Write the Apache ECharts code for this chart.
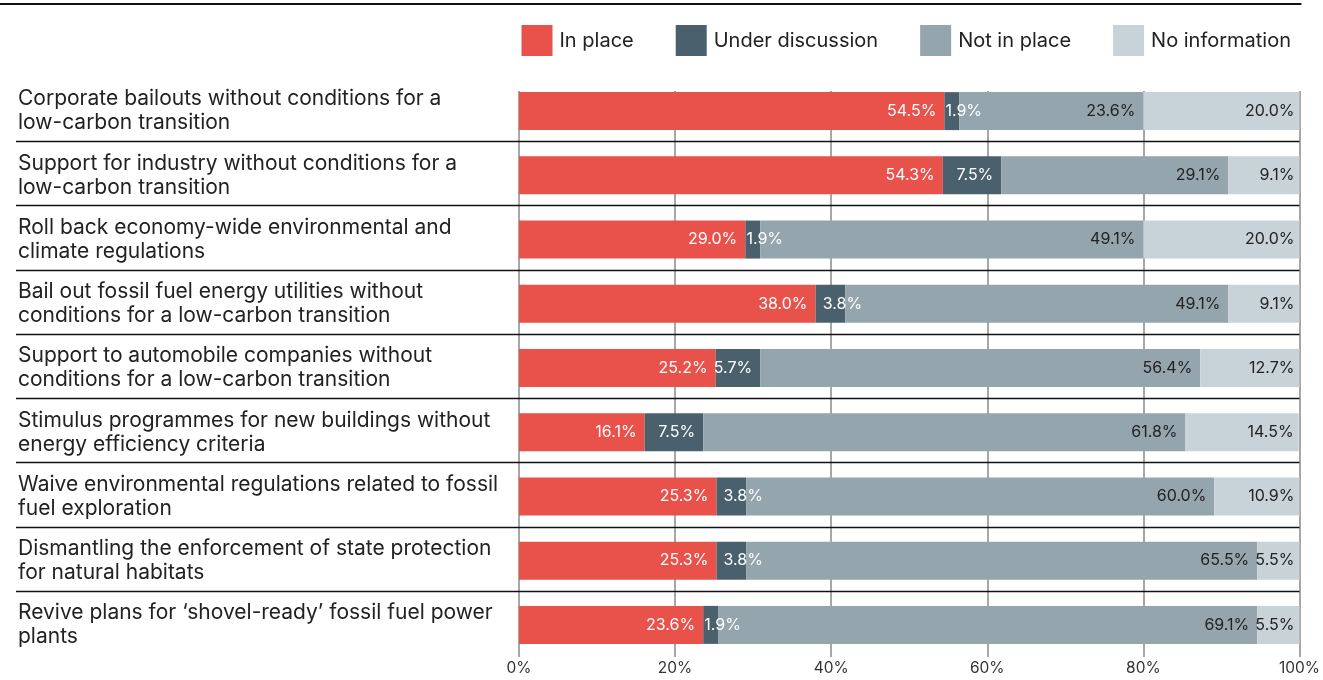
<!DOCTYPE html>
<html>
<head>
<meta charset="utf-8">
<script src="https://cdn.jsdelivr.net/npm/echarts@6/dist/echarts.min.js"></script>
<style>
html,body{margin:0;padding:0;background:#fff;}
#chart{width:1323px;height:680px;}
</style>
</head>
<body>
<div id="chart"></div>
<script>
const categories = [
  'Corporate bailouts without conditions for a\nlow-carbon transition',
  'Support for industry without conditions for a\nlow-carbon transition',
  'Roll back economy-wide environmental and\nclimate regulations',
  'Bail out fossil fuel energy utilities without\nconditions for a low-carbon transition',
  'Support to automobile companies without\nconditions for a low-carbon transition',
  'Stimulus programmes for new buildings without\nenergy efficiency criteria',
  'Waive environmental regulations related to fossil\nfuel exploration',
  'Dismantling the enforcement of state protection\nfor natural habitats',
  'Revive plans for \u2018shovel-ready\u2019 fossil fuel power\nplants'
];
const seriesNames = ['In place', 'Under discussion', 'Not in place', 'No information'];
const inPlace          = [54.5, 54.3, 29.0, 38.0, 25.2, 16.1, 25.3, 25.3, 23.6];
const underDiscussion  = [1.9, 7.5, 1.9, 3.8, 5.7, 7.5, 3.8, 3.8, 1.9];
const notInPlace       = [23.6, 29.1, 49.1, 49.1, 56.4, 61.8, 60.0, 65.5, 69.1];
const noInformation    = [20.0, 9.1, 20.0, 9.1, 12.7, 14.5, 10.9, 5.5, 5.5];
const xTicks = [0, 20, 40, 60, 80, 100];

const colors = ['#E8524A', '#4A616D', '#94A5AE', '#C8D3D9'];
const labelColors = ['#ffffff', '#ffffff', '#222222', '#222222'];
const FONT = 'Inter';

const chart = echarts.init(document.getElementById('chart'), null, {renderer: 'canvas'});

function makeSeries(name, values, idx) {
  return {
    name: name,
    type: 'bar',
    stack: 'total',
    barWidth: 38,
    itemStyle: {color: colors[idx]},
    label: {
      show: true,
      position: 'insideRight',
      distance: idx === 3 ? 5 : 8,
      color: labelColors[idx],
      fontFamily: FONT,
      fontSize: 16,
      formatter: p => p.value.toFixed(1) + '%'
    },
    emphasis: {disabled: true},
    data: values.map(v => {
      if (idx === 1 && v < 5) {
        return {value: v, label: {position: 'inside', offset: [12, 0]}};
      }
      return v;
    })
  };
}

const GRID = {left: 519, right: 21, top: 79, bottom: 23};

chart.setOption({
  animation: false,
  backgroundColor: '#ffffff',
  color: colors,
  legend: {
    top: 20,
    right: 27,
    itemWidth: 31,
    itemHeight: 31,
    itemGap: 42,
    icon: 'rect',
    selectedMode: false,
    textStyle: {fontFamily: FONT, fontSize: 20, color: '#222', padding: [0, 0, 0, 2]},
    data: seriesNames
  },
  grid: GRID,
  xAxis: {
    type: 'value',
    min: 0,
    max: 100,
    interval: 20,
    axisLine: {show: false},
    splitLine: {show: false},
    axisTick: {
      show: true,
      inside: true,
      length: 566,
      lineStyle: {color: '#8a8a8a', width: 1.5}
    },
    axisLabel: {
      margin: 3,
      fontFamily: FONT,
      fontSize: 15.5,
      color: '#333',
      formatter: v => xTicks.indexOf(v) >= 0 ? v + '%' : ''
    }
  },
  yAxis: {
    type: 'category',
    inverse: true,
    data: categories,
    axisLine: {show: false},
    axisTick: {show: false},
    splitLine: {show: false},
    axisLabel: {
      align: 'left',
      margin: 501,
      fontFamily: FONT,
      fontSize: 21,
      lineHeight: 24,
      color: '#222'
    }
  },
  series: [
    makeSeries(seriesNames[0], inPlace, 0),
    makeSeries(seriesNames[1], underDiscussion, 1),
    makeSeries(seriesNames[2], notInPlace, 2),
    makeSeries(seriesNames[3], noInformation, 3)
  ]
});

// Separator lines between rows, positioned through the category scale
const xRight = chart.convertToPixel({xAxisIndex: 0}, 100);
const graphics = [];
for (let i = 0; i < categories.length - 1; i++) {
  const y0 = chart.convertToPixel({yAxisIndex: 0}, i);
  const y1 = chart.convertToPixel({yAxisIndex: 0}, i + 1);
  const y = Math.round((y0 + y1) / 2) - 2 + 0.5;
  graphics.push({
    type: 'line',
    z: 100,
    shape: {x1: 16, y1: y, x2: xRight, y2: y},
    style: {stroke: '#111', lineWidth: 1.3}
  });
}
graphics.push({
  type: 'line',
  z: 100,
  shape: {x1: 0, y1: 4, x2: xRight + 2, y2: 4},
  style: {stroke: '#111', lineWidth: 2}
});
chart.setOption({graphic: graphics});
</script>
</body>
</html>
